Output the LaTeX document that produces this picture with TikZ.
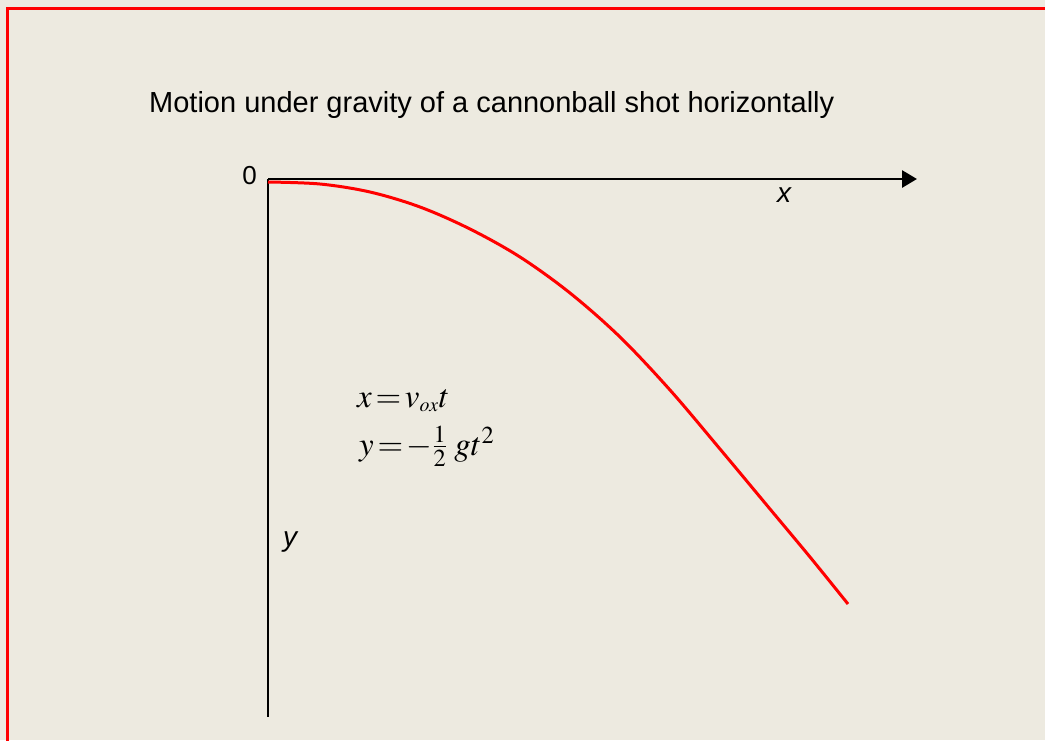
\documentclass[tikz,border=0pt]{standalone}
\usepackage{amsmath}
\usepackage{mathptmx}
\usepackage{fontspec}
\setmainfont{Liberation Sans}
\usepackage{tikz}
\usetikzlibrary{arrows.meta, positioning}
\definecolor{paper}{RGB}{237,234,224}
\definecolor{frame}{HTML}{FF0000}
\definecolor{path}{HTML}{FF0000}
\tikzset{
  axis/.style={
    line width=2.8pt,
    -{Triangle[length=15pt, width=17pt]}
  },
  plain axis/.style={line width=2.3pt},
  label/.style={font=\fontsize{29}{33}\selectfont, inner sep=0pt},
  axis label/.style={font=\fontsize{28}{32}\selectfont\itshape, inner sep=0pt},
  eqn/.style={font=\fontsize{33}{37}\selectfont, inner sep=0pt, anchor=base west},
  trajectory/.style={draw=path, line width=3pt}
}

\begin{document}
\begin{tikzpicture}[x=1pt, y=-1pt]
  \useasboundingbox (0,0) rectangle (1045,740);
  \fill[paper] (0,0) rectangle (1045,740);
  \draw[frame, line width=3pt] (7,760) -- (7,8) -- (1060,8);

  \node[label, anchor=base west] (title) at (149,112) {Motion under gravity of a cannonball shot horizontally};

  \coordinate (origin) at (268,179);
  \coordinate (xend) at (917,179);
  \coordinate (yend) at (268,717);
  \draw[axis] (origin) -- (xend);
  \draw[plain axis] (origin) -- (yend);

  \node[label, anchor=base east, font=\fontsize{26}{30}\selectfont] (zero) at (257,184) {0};
  \node[axis label, anchor=base] (xlabel) at (784,202) {x};
  \node[axis label, anchor=base] (ylabel) at (290,546) {y};

  \draw[trajectory] plot[smooth, tension=0.55] coordinates {
    (268,182) (320,184) (370,192) (420,207) (470,229) (520,257)
    (570,293) (620,337) (670,390) (720,449) (770,509) (810,557) (848,604)};

  \node[eqn] (eqx) at (357,407) {$x\,{=}\,v_{\scriptscriptstyle ox}t$};
  \node[eqn] (eqy) at (359,455) {$y\,{=}\,{-}\tfrac{1}{2}\;gt^{2}$};
\end{tikzpicture}
\end{document}
